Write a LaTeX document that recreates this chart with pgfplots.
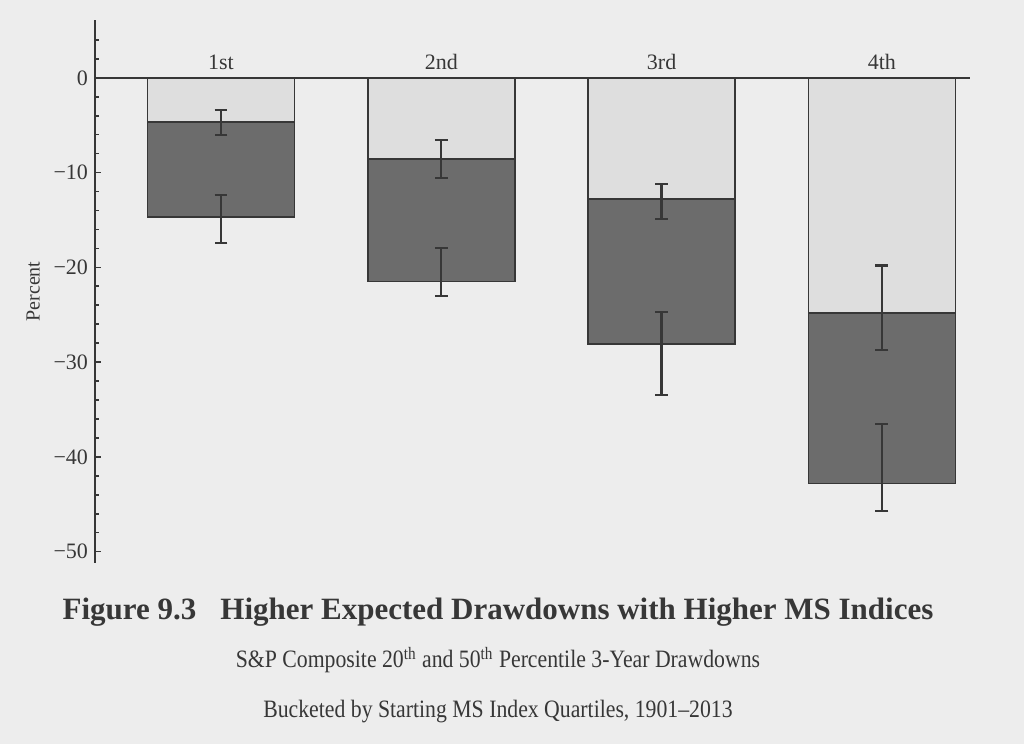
\documentclass[border=0pt]{standalone}
\usepackage{fontspec}
\setmainfont{Liberation Serif}
\newfontfamily\condfont{Liberation Serif}[FakeStretch=0.87]
\usepackage{pgfplots}
\pgfplotsset{compat=1.18}

\definecolor{paper}{RGB}{237,237,237}
\definecolor{darkbar}{RGB}{108,108,108}
\definecolor{lightbar}{RGB}{222,222,222}
\definecolor{ink}{RGB}{55,55,55}

\begin{document}
\begin{tikzpicture}
% page background, fixes the picture size (1 px = 0.5bp)
\fill[paper] (0,0) rectangle (512bp,372bp);

\begin{axis}[
    at={(47.5bp,90.5bp)}, anchor=south west,
    scale only axis,
    width=437.5bp, height=271.5bp,
    xmin=0.428, xmax=4.4,
    ymin=-51.2, ymax=6.1,
    axis on top,
    axis y line*=left,
    axis x line*=middle,
    axis line style={ink, line width=1bp, -},
    xtick=\empty,
    ytick={0,-10,-20,-30,-40,-50},
    yticklabels={0,−10,−20,−30,−40,−50},
    minor ytick={4,2,-2,-4,-6,-8,-12,-14,-16,-18,-22,-24,-26,-28,-32,-34,-36,-38,-42,-44,-46,-48},
    tick align=inside,
    major tick length=3bp, minor tick length=2bp,
    tick style={ink, line width=0.8bp},
    tick label style={font=\fontsize{11bp}{13bp}\selectfont, text=ink},
    ylabel={Percent},
    ylabel style={font=\fontsize{10bp}{12bp}\selectfont, text=ink},
    ybar, bar width=73.5bp, bar shift=0pt,
    clip=false,
]
% 20th percentile drawdown
\addplot[fill=darkbar, draw=ink, line width=0.7bp,
    error bars/.cd, y dir=both, y explicit,
    error bar style={line width=1.1bp, draw=ink},
    error mark options={rotate=90, mark size=3.2bp, line width=1.1bp, draw=ink}]
coordinates {
    (1,-14.7) += (0,2.3) -= (0,2.7)
    (2,-21.5) += (0,3.5) -= (0,1.5)
    (3,-28.1) += (0,3.4) -= (0,5.4)
    (4,-42.8) += (0,6.3) -= (0,2.9)
};
% 50th percentile drawdown
\addplot[fill=lightbar, draw=ink, line width=0.7bp,
    error bars/.cd, y dir=both, y explicit,
    error bar style={line width=1.1bp, draw=ink},
    error mark options={rotate=90, mark size=3.2bp, line width=1.1bp, draw=ink}]
coordinates {
    (1,-4.65) += (0,1.25) -= (0,1.35)
    (2,-8.55) += (0,1.95) -= (0,2.05)
    (3,-12.8) += (0,1.6) -= (0,2.1)
    (4,-24.8) += (0,5.0) -= (0,3.9)
};
\foreach \q/\lab in {1/1st,2/2nd,3/3rd,4/4th}{
    \edef\tmp{\noexpand\node[anchor=base, yshift=4bp, text=ink,
        font=\noexpand\fontsize{11bp}{13bp}\noexpand\selectfont]
        at (axis cs:\q,0) {\lab};}
    \tmp
}
\end{axis}

\node[text=ink, font=\bfseries\fontsize{15.5bp}{18bp}\selectfont]
    at (249bp,66bp) {Figure 9.3\hspace{12bp}Higher Expected Drawdowns with Higher MS Indices};
\node[text=ink, font=\condfont\fontsize{12.5bp}{15bp}\selectfont]
    at (249bp,42bp) {S\&P Composite 20\textsuperscript{th} and 50\textsuperscript{th} Percentile 3-Year Drawdowns};
\node[text=ink, font=\condfont\fontsize{12.5bp}{15bp}\selectfont]
    at (249bp,16bp) {Bucketed by Starting MS Index Quartiles, 1901–2013};
\end{tikzpicture}
\end{document}
